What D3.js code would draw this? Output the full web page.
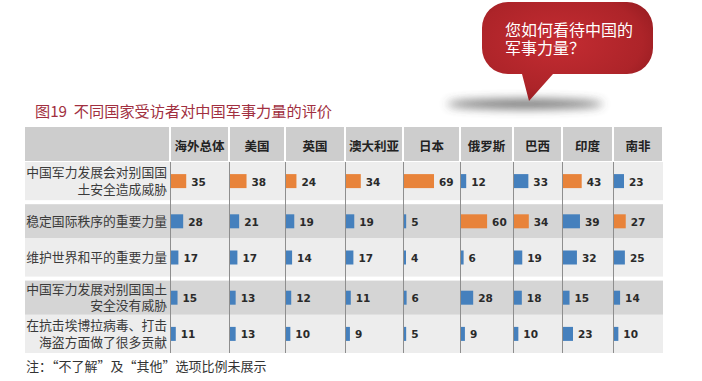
<!DOCTYPE html>
<html><head><meta charset="utf-8">
<script src="https://cdn.jsdelivr.net/npm/d3@7"></script>
<style>
html,body{margin:0;padding:0;background:#fff;}
svg{display:block;}
</style></head>
<body>
<script>
// ---------- data ----------
const countries = ['海外总体','美国','英国','澳大利亚','日本','俄罗斯','巴西','印度','南非'];
const rowLabels = [
  ['中国军力发展会对别国国','土安全造成威胁'],
  ['稳定国际秩序的重要力量'],
  ['维护世界和平的重要力量'],
  ['中国军力发展对别国国土','安全没有威胁'],
  ['在抗击埃博拉病毒、打击','海盗方面做了很多贡献']
];
const threatValues       = [35,38,24,34,69,12,33,43,23];
const stabilityValues    = [28,21,19,19,5,60,34,39,27];
const peaceValues        = [17,17,14,17,4,6,19,32,25];
const noThreatValues     = [15,13,12,11,6,28,18,15,14];
const contributionValues = [11,13,10,9,5,9,10,23,10];
const seriesValues = [threatValues, stabilityValues, peaceValues, noThreatValues, contributionValues];
const titleText = '图19  不同国家受访者对中国军事力量的评价';
const bubbleLines = ['您如何看待中国的','军事力量？'];
const noteText = '注：“不了解”及“其他”选项比例未展示';

// ---------- layout ----------
const W = 702, H = 381;
const tableLeft = 25, colStart = 170, colEnd = 663;
const headTop = 127, bodyTop = 162, bodyBottom = 353;
const colWeights = [59,56,60,58,57,53,49,51,50];
const cum = [0]; colWeights.forEach(w => cum.push(cum[cum.length-1]+w));
const colScale = d3.scaleLinear().domain([0, cum[cum.length-1]]).range([colStart, colEnd]);
const colLeft = i => colScale(cum[i]);
const colRight = i => colScale(cum[i+1]);
const y = d3.scaleBand().domain(d3.range(rowLabels.length)).range([bodyTop, bodyBottom]).padding(0);
const x = d3.scaleLinear().domain([0,100]).range([0,43.5]);
const grayInset = 4;
const rowTop = i => y(i) + (i%2===1 ? grayInset : 0);
const rowMid = i => (rowTop(i) + y(i) + y.bandwidth())/2;
const barH = 14;
const colMax = countries.map((c,j) => d3.max(seriesValues, s => s[j]));
const cjkTight = '"Liberation Sans", "Noto Sans CJK SC", sans-serif';
const cjk = '"Noto Sans CJK SC", sans-serif';

const svg = d3.select('body').append('svg').attr('width',W).attr('height',H);
const defs = svg.append('defs');
const blur = defs.append('filter').attr('id','blur').attr('x','-50%').attr('y','-200%').attr('width','200%').attr('height','500%');
blur.append('feGaussianBlur').attr('stdDeviation',5);
const grad = defs.append('radialGradient').attr('id','bubbleGrad').attr('cx','45%').attr('cy','40%').attr('r','65%');
grad.append('stop').attr('offset','0%').attr('stop-color','#c42c32');
grad.append('stop').attr('offset','75%').attr('stop-color','#ad2429');
grad.append('stop').attr('offset','100%').attr('stop-color','#951c21');

// ---------- speech bubble ----------
svg.append('ellipse').attr('cx',525).attr('cy',104).attr('rx',78).attr('ry',5)
  .attr('fill','#444').attr('opacity',0.75).attr('filter','url(#blur)');
(function(){
  const bx0=482, by0=2, bx1=653, by1=74, r=26;
  const p = d3.path();
  p.moveTo(bx0+r, by0);
  p.lineTo(bx1-r, by0);
  p.arcTo(bx1, by0, bx1, by0+r, r);
  p.lineTo(bx1, by1-r);
  p.arcTo(bx1, by1, bx1-r, by1, r);
  p.lineTo(553, by1);
  p.lineTo(529, 101);
  p.lineTo(522, by1);
  p.lineTo(bx0+r, by1);
  p.arcTo(bx0, by1, bx0, by1-r, r);
  p.lineTo(bx0, by0+r);
  p.arcTo(bx0, by0, bx0+r, by0, r);
  p.closePath();
  svg.append('path').attr('d', p.toString()).attr('fill','url(#bubbleGrad)');
})();
svg.append('g').selectAll('text').data(bubbleLines).join('text')
  .attr('x',505).attr('y',(d,i)=>36+i*18)
  .attr('font-family',cjkTight).attr('font-size',16)
  .attr('fill','#fff').text(d=>d);

// ---------- title ----------
svg.append('text').attr('x',35).attr('y',117)
  .attr('font-family',cjk).attr('font-size',15.2)
  .attr('fill','#a12f40').style('white-space','pre').text(titleText);

// ---------- header ----------
const head = svg.append('g');
head.append('rect').attr('x',tableLeft).attr('y',headTop).attr('width',colStart-tableLeft-1).attr('height',bodyTop-headTop-1).attr('fill','#cdcdcd');
head.selectAll('rect.h').data(countries).join('rect').attr('class','h')
  .attr('x',(d,i)=>colLeft(i)+1).attr('y',headTop)
  .attr('width',(d,i)=>colRight(i)-colLeft(i)-2).attr('height',bodyTop-headTop-1)
  .attr('fill','#cdcdcd');
head.selectAll('text').data(countries).join('text')
  .attr('x',(d,i)=>(colLeft(i)+colRight(i))/2).attr('y',(headTop+bodyTop)/2+1)
  .attr('text-anchor','middle').attr('dominant-baseline','central')
  .attr('font-family',cjk).attr('font-weight','bold').attr('font-size',12.5)
  .attr('fill','#222').text(d=>d);

// ---------- rows ----------
const rows = svg.append('g');
rows.selectAll('rect').data(rowLabels).join('rect')
  .attr('x',tableLeft).attr('y',(d,i)=>rowTop(i))
  .attr('width',colEnd-tableLeft)
  .attr('height',(d,i)=>y(i)+y.bandwidth()-rowTop(i))
  .attr('fill',(d,i)=> i%2===1 ? '#d5d5d5' : '#ededed');

// row labels
rowLabels.forEach((lines,i)=>{
  const n = lines.length, lh = 16.5;
  rows.append('g').selectAll('text').data(lines).join('text')
    .attr('x',colStart-3).attr('y',(d,k)=>rowMid(i)+(k-(n-1)/2)*lh + 4.5)
    .attr('text-anchor','end')
    .attr('font-family',cjkTight).attr('font-size',12.8)
    .attr('fill','#3a3a3a').text(d=>d);
});

// axis lines
svg.append('g').selectAll('line').data(countries).join('line')
  .attr('x1',(d,i)=>colLeft(i)+0.5).attr('x2',(d,i)=>colLeft(i)+0.5)
  .attr('y1',bodyTop).attr('y2',bodyBottom)
  .attr('stroke','#8e8e8e').attr('stroke-width',1);

// bars & labels
const cells = [];
seriesValues.forEach((s,i)=> s.forEach((v,j)=> cells.push({row:i,col:j,v})));
const bars = svg.append('g');
bars.selectAll('rect').data(cells).join('rect')
  .attr('x',d=>colLeft(d.col)+1).attr('y',d=>rowMid(d.row)-barH/2)
  .attr('width',d=>Math.max(2,x(d.v))).attr('height',barH)
  .attr('fill',d=> d.v===colMax[d.col] ? '#e8833a' : '#4580bd');
bars.selectAll('text').data(cells).join('text')
  .attr('x',d=>colLeft(d.col)+1+Math.max(2,x(d.v))+5).attr('y',d=>rowMid(d.row)+0.5)
  .attr('dominant-baseline','central')
  .attr('font-family','"DejaVu Sans", sans-serif').attr('font-weight','bold').attr('font-size',10.5)
  .attr('fill','#2a2a2a').text(d=>d.v);

// note
svg.append('text').attr('x',26).attr('y',371)
  .attr('font-family',cjk).attr('font-size',13)
  .attr('fill','#333').text(noteText);
</script>
</body></html>
